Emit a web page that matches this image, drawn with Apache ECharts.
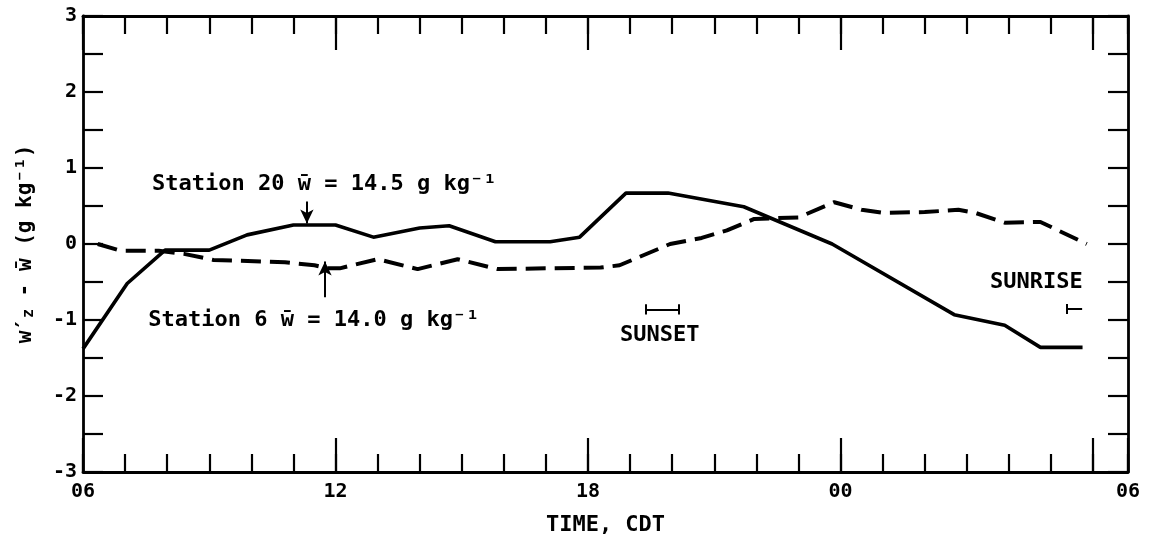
<!DOCTYPE html>
<html>
<head>
<meta charset="utf-8">
<script src="https://cdn.jsdelivr.net/npm/echarts@6/dist/echarts.min.js"></script>
<style>
  html, body { margin: 0; padding: 0; background: #fff; }
  #chart { width: 1151px; height: 541px; }
</style>
</head>
<body>
<div id="chart"></div>
<script>
// Time is counted in hours after 06 CDT.
const station20Hours  = [0, 1.05, 1.95, 3.0, 3.9, 5.0, 6.0, 6.9, 8.0, 8.7, 9.8, 11.1, 11.8, 12.9, 13.9, 15.7, 17.8, 20.7, 21.9, 22.75, 23.75];
const station20Values = [-1.38, -0.52, -0.08, -0.08, 0.12, 0.25, 0.25, 0.09, 0.21, 0.24, 0.03, 0.03, 0.09, 0.67, 0.67, 0.49, 0.0, -0.93, -1.07, -1.36, -1.36];

const station6Hours  = [0.35, 0.9, 1.8, 2.4, 3.1, 4.8, 5.5, 5.8, 6.1, 7.0, 7.95, 8.9, 9.85, 12.3, 12.75, 13.95, 14.7, 15.3, 15.95, 17.0, 17.85, 18.5, 19.0, 20.0, 20.8, 21.2, 21.9, 22.75, 23.85];
const station6Values = [0, -0.09, -0.09, -0.13, -0.21, -0.24, -0.28, -0.32, -0.32, -0.2, -0.33, -0.2, -0.33, -0.31, -0.28, 0.0, 0.08, 0.18, 0.33, 0.35, 0.55, 0.45, 0.41, 0.42, 0.45, 0.41, 0.28, 0.29, 0.0];

const timeTickLabels = ['06', '12', '18', '00', '06'];
const timeMax = 24.83;          // frame runs a little past the last 06 tick
const sunsetHours  = [13.36, 14.16];
const sunriseHours = [23.38, 23.74];

const FONT = '"DejaVu Sans Mono", monospace';
const WEIGHT = 'bold';
const BLACK = '#000';

const pair = (xs, ys) => xs.map((x, i) => [x, ys[i]]);

function timeLabel(v) {
  if (v > 24.01) return timeTickLabels[4];
  const k = v / 6;
  return Number.isInteger(k) && k < 4 ? timeTickLabels[k] : '';
}

function xAxisLayer(position, interval, tickLen, withLabels) {
  return {
    type: 'value', min: 0, max: timeMax, interval: interval, position: position,
    axisLine: { show: interval === 1, onZero: false, lineStyle: { color: BLACK, width: 2.8 } },
    axisTick: { show: true, inside: true, length: tickLen, lineStyle: { color: BLACK, width: 2.2 } },
    axisLabel: withLabels ? {
      show: true, formatter: timeLabel, color: BLACK, fontFamily: FONT, fontWeight: WEIGHT, fontSize: 20,
      margin: 10, showMaxLabel: true, showMinLabel: true
    } : { show: false },
    splitLine: { show: false },
    name: withLabels ? 'TIME, CDT' : '',
    nameLocation: 'middle', nameGap: 42,
    nameTextStyle: { color: BLACK, fontFamily: FONT, fontWeight: WEIGHT, fontSize: 22 }
  };
}

function yAxisLayer(position, withLabels) {
  return {
    type: 'value', min: -3, max: 3, interval: 0.5, position: position,
    axisLine: { show: true, onZero: false, lineStyle: { color: BLACK, width: 2.8 } },
    axisTick: { show: true, inside: true, length: 20, lineStyle: { color: BLACK, width: 2.2 } },
    axisLabel: withLabels ? {
      show: true, color: BLACK, fontFamily: FONT, fontWeight: WEIGHT, fontSize: 20, margin: 6,
      formatter: v => (Number.isInteger(v) ? String(v) : '')
    } : { show: false },
    splitLine: { show: false },
    name: withLabels ? 'w\u2032{sub|z} - w\u0304 (g kg\u207B\u00B9)' : '',
    nameLocation: 'middle', nameGap: 46, nameRotate: 90,
    nameTextStyle: {
      color: BLACK, fontFamily: FONT, fontWeight: WEIGHT, fontSize: 21,
      rich: { sub: { fontFamily: FONT, fontWeight: WEIGHT, fontSize: 15, color: BLACK, padding: [8, 0, 0, 0] } }
    }
  };
}

const seg = (a, b) => [{ coord: a, symbol: 'none' }, { coord: b, symbol: 'none' }];
const arrow = (from, to) => [{ coord: from, symbol: 'none' }, { coord: to, symbol: 'arrow', symbolSize: [10, 14] }];

const textStyle = { color: BLACK, fontFamily: FONT, fontWeight: WEIGHT, fontSize: 22 };
const note = (x, y, text) => ({
  coord: [x, y], symbol: 'circle', symbolSize: 0,
  label: Object.assign({ show: true, position: 'right', distance: 0, formatter: text }, textStyle)
});

const capH = 0.066;
const option = {
  animation: false,
  backgroundColor: '#fff',
  grid: { left: 83, right: 23, top: 16, bottom: 69, containLabel: false, outerBoundsMode: 'none' },
  xAxis: [
    xAxisLayer('bottom', 1, 18, true),
    xAxisLayer('bottom', 6, 34, false),
    xAxisLayer('top', 1, 18, false),
    xAxisLayer('top', 6, 34, false)
  ],
  yAxis: [yAxisLayer('left', true), yAxisLayer('right', false)],
  series: [
    {
      name: 'Station 20', type: 'line', xAxisIndex: 0, yAxisIndex: 0,
      data: pair(station20Hours, station20Values),
      showSymbol: false, symbol: 'none', silent: true,
      lineStyle: { color: BLACK, width: 3.6, type: 'solid' },
      markLine: {
        silent: true, symbol: ['none', 'none'],
        label: { show: false },
        lineStyle: { color: BLACK, width: 2, type: 'solid' },
        data: [
          [{ yAxis: 0, symbol: 'none', lineStyle: { color: BLACK, width: 1.8, type: 'solid' } }, { yAxis: 0, symbol: 'none' }],
          arrow([5.32, 0.56], [5.32, 0.27]),
          arrow([5.75, -0.70], [5.75, -0.23]),
          seg([sunsetHours[0], -0.86], [sunsetHours[1], -0.86]),
          seg([sunsetHours[0], -0.86 - capH], [sunsetHours[0], -0.86 + capH]),
          seg([sunsetHours[1], -0.86 - capH], [sunsetHours[1], -0.86 + capH]),
          seg([sunriseHours[0], -0.855], [sunriseHours[1], -0.855]),
          seg([sunriseHours[0], -0.855 - capH], [sunriseHours[0], -0.855 + capH])
        ]
      },
      markPoint: {
        silent: true,
        data: [
          note(1.64, 0.78, 'Station 20 w\u0304 = 14.5 g kg\u207B\u00B9'),
          note(1.55, -1.0, 'Station 6 w\u0304 = 14.0 g kg\u207B\u00B9'),
          note(12.76, -1.2, 'SUNSET'),
          note(21.55, -0.51, 'SUNRISE')
        ]
      }
    },
    {
      name: 'Station 6', type: 'line', xAxisIndex: 0, yAxisIndex: 0,
      data: pair(station6Hours, station6Values),
      showSymbol: false, symbol: 'none', silent: true,
      lineStyle: { color: BLACK, width: 4, type: [20, 9] }
    }
  ]
};

const chart = echarts.init(document.getElementById('chart'), null, { renderer: 'canvas' });
chart.setOption(option);
</script>
</body>
</html>
